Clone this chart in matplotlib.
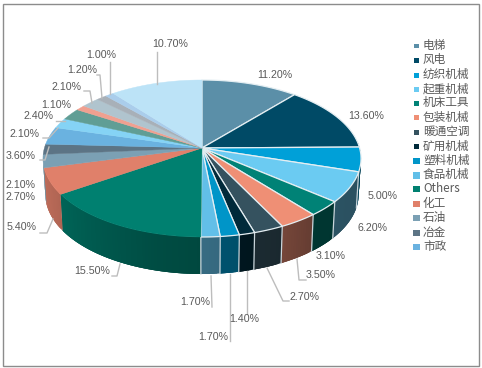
import numpy as np
import matplotlib
matplotlib.use('Agg')
import matplotlib.pyplot as plt
from matplotlib.patches import Polygon, Rectangle

# dane
values = [11.2, 13.6, 5.0, 6.2, 3.1, 3.5, 2.7, 1.4, 1.7, 1.7, 15.5,
          5.4, 2.7, 2.1, 3.6, 2.1, 2.4, 1.1, 2.1, 1.2, 1.0, 10.7]
legend_names = ['电梯', '风电', '纺织机械', '起重机械', '机床工具', '包装机械', '暖通空调', '矿用机械',
                '塑料机械', '食品机械', 'Others', '化工', '石油', '冶金', '市政']
colors = ['#5b8fa8', '#004a66', '#00a0d8', '#6bcbf2', '#008276', '#ef8f75', '#35525f', '#002a3a',
          '#0095c8', '#62bfe8', '#008070', '#e0806a', '#7ba0b4', '#5c7485', '#6ab2e0',
          '#85d3f5', '#609e95', '#f0a090', '#b0c4ce', '#a8b0b8', '#aacdeb', '#bce3f7']

# pozycje etykiet i linii odniesienia
label_pos = [(275, 75), (366, 116), (383, 196), (372, 228), (331, 256), (321, 275), (305, 297),
             (244, 319), (213, 337), (195, 302), (92, 271), (22, 227), (21, 197), (21, 185),
             (21, 156), (24, 134), (38, 116), (56, 105), (66, 87), (82, 70), (101, 55), (170, 44)]
leaders = [
    [(297, 259), (299, 280), (306, 280)],
    [(267, 268), (283, 301), (289, 301)],
    [(247, 271), (247, 314)],
    [(230, 274), (230, 341)],
    [(211, 276), (212, 307)],
    [(120, 264), (117, 276), (112, 276)],
    [(53, 219), (47, 233), (40, 233)],
    [(49, 147), (45, 160), (40, 160)],
    [(58, 128), (49, 138), (43, 138)],
    [(65, 121), (56, 121)],
    [(92, 103), (90, 91), (84, 91)],
    [(102, 98), (100, 75), (97, 75)],
    [(110, 94), (110, 62)],
    [(157, 84), (157, 52)],
]
legend_y = [46, 60.3, 75.3, 89.3, 103.3, 117.7, 132.3, 146.7, 161, 175.3, 189, 204, 218, 233, 247]

# rzut perspektywiczny okregu
CX, CY = 202, 148
R, B, K = 157.6, 77.1, 0.1338


def top_ring(theta):
    u, v = np.sin(theta), -np.cos(theta)
    d = 1 - K * v
    return CX + R * u / d, CY + B * v / d


def bottom_ring(theta):
    x, y = top_ring(theta)
    v = -np.cos(theta)
    return CX + (x - CX) * 0.985, y + 35.5 + 1.5 * v


def shade(deg):
    return np.interp(deg, [90, 120, 140, 155, 175, 195, 240, 270],
                     [.4, .4, .42, .5, .55, .6, .8, .9])


def darker(color, f):
    return tuple(c * f for c in matplotlib.colors.to_rgb(color))


fig = plt.figure(figsize=(4.82, 3.68), dpi=100)
ax = fig.add_axes([0, 0, 1, 1])
ax.set_xlim(0, 482)
ax.set_ylim(368, 0)
ax.axis('off')

ax.add_patch(Rectangle((2.5, 3.5), 476.5, 362, fc='white', ec='#8c8c8c', lw=1))

edges = np.radians(np.concatenate([[0], np.cumsum(values)]) * 3.6)

# sciany boczne, kawalki zachodza na siebie zeby nie bylo prazkow
for i, col in enumerate(colors):
    a, b = max(edges[i], np.radians(85)), min(edges[i + 1], np.radians(262))
    if a >= b:
        continue
    steps = np.linspace(a, b, int(np.degrees(b - a)) + 2)
    for j in range(len(steps) - 1):
        ts = np.linspace(steps[j], steps[min(j + 3, len(steps) - 1)], 5)
        xt, yt = top_ring(ts)
        xb, yb = bottom_ring(ts)
        f = darker(col, shade(np.degrees((steps[j] + steps[j + 1]) / 2)))
        ax.add_patch(Polygon(np.r_[np.c_[xt, yt], np.c_[xb, yb][::-1]], fc=f, ec='none'))
    # jasne krawedzie miedzy scianami
    if np.radians(100) < edges[i + 1] < np.radians(185):
        xt, yt = top_ring(edges[i + 1])
        xb, yb = bottom_ring(edges[i + 1])
        ax.plot([xt, xb], [yt, yb], color='#c8d4da', lw=.9, zorder=3)

# gorna powierzchnia
for i, col in enumerate(colors):
    n = max(int(np.degrees(edges[i + 1] - edges[i])), 2) + 2
    x, y = top_ring(np.linspace(edges[i], edges[i + 1], n))
    pts = np.r_[[(CX, CY)], np.c_[x, y]]
    lw = .9 if 0.0 < edges[i + 1] < np.radians(185) else .3
    ec = '#e4eef2' if lw > .5 else col
    ax.add_patch(Polygon(pts, fc=col, ec=ec, lw=lw, joinstyle='round', zorder=4))

# linie odniesienia
for line in leaders:
    xs, ys = zip(*line)
    ax.plot(xs, ys, color='#bdbdbd', lw=1, zorder=5)

# etykiety procentowe
for v, (x, y) in zip(values, label_pos):
    ax.text(x, y, '%.2f%%' % v, ha='center', va='center', fontsize=7.7,
            family='Liberation Sans', color='#595959', zorder=6)

# legenda
for i, (name, y) in enumerate(zip(legend_names, legend_y)):
    size = 4.6 if i < 8 else 6.8
    ax.add_patch(Rectangle((416.6 - size / 2, y - size / 2), size, size, fc=colors[i], ec='none'))
    ax.text(423, y - 0.5, name, ha='left', va='center', fontsize=8.4,
            family=['Noto Sans CJK SC', 'DejaVu Sans'], color='#595959')

fig.savefig('out.png', dpi=100)
